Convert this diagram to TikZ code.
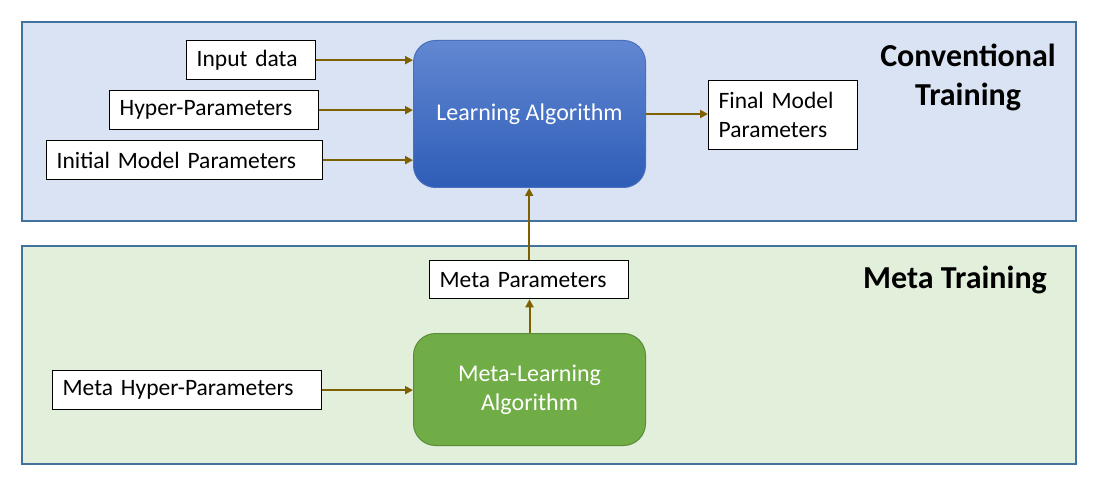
\documentclass[tikz,border=0pt]{standalone}
\usepackage{fontspec}
\setmainfont{Carlito}
\usetikzlibrary{arrows.meta}
\definecolor{panelborder}{RGB}{65,113,156}
\definecolor{topfill}{RGB}{218,227,243}
\definecolor{botfill}{RGB}{226,239,218}
\definecolor{latop}{RGB}{98,135,210}
\definecolor{labot}{RGB}{46,93,183}
\definecolor{laborder}{RGB}{72,110,190}
\definecolor{mlafill}{RGB}{112,173,71}
\definecolor{mlaborder}{RGB}{90,140,58}
\definecolor{arrowcol}{RGB}{127,96,0}
\tikzset{
  panel/.style={draw=panelborder, line width=1.2pt},
  wbox/.style={draw=black, fill=white, line width=1.3pt, anchor=north west, inner xsep=10pt, inner ysep=0pt, align=left, font=\fontsize{23.5}{29}\selectfont},
  algo/.style={rounded corners=22pt, anchor=north west, text=white, align=center, font=\fontsize{24}{29}\selectfont, line width=1pt},
  flow/.style={draw=arrowcol, line width=2pt, -{Triangle[length=8pt,width=8pt]}},
  title/.style={font=\fontsize{32}{39}\selectfont\bfseries, align=center}
}
\begin{document}
\begin{tikzpicture}[x=1pt,y=-1pt]
\useasboundingbox (0,0) rectangle (1097,486);
\fill[white] (0,0) rectangle (1097,486);
% panels
\draw[panel, fill=topfill] (22,22) rectangle (1076,221);
\draw[panel, fill=botfill] (22,246) rectangle (1076,464);
% titles
\node[title] (ct) at (968,77) {Conventional\\Training};
\node[title] (mt) at (955,280) {Meta Training};
% algorithm boxes
\node[algo, draw=laborder, top color=latop, bottom color=labot, minimum width=232pt, minimum height=147pt] (la) at (413,40) {Learning Algorithm};
\node[algo, draw=mlaborder, fill=mlafill, minimum width=232pt, minimum height=112pt] (mla) at (413,333) {Meta-Learning\\Algorithm};
% white boxes
\node[wbox, text width=109pt, minimum height=39pt] (inp) at (186,40) {Input data};
\node[wbox, text width=189pt, minimum height=39pt] (hyp) at (109,90) {Hyper-Parameters};
\node[wbox, text width=256pt, minimum height=39pt] (ini) at (46,140) {Initial Model Parameters};
\node[wbox, text width=129pt, minimum height=69pt] (fin) at (708,80) {Final Model\\Parameters};
\node[wbox, text width=179pt, minimum height=38pt] (mp) at (429,260) {Meta Parameters};
\node[wbox, text width=249pt, minimum height=39pt] (mhp) at (52,370) {Meta Hyper-Parameters};
% connectors
\draw[flow] (inp.east) -- (inp.east -| la.west);
\draw[flow] (hyp.east) -- (hyp.east -| la.west);
\draw[flow] (ini.east) -- (ini.east -| la.west);
\draw[flow] (la.east) -- (la.east -| fin.west);
\draw[flow] (mp.north) -- (mp.north |- la.south);
\draw[flow] (mla.north) -- (mla.north |- mp.south);
\draw[flow] (mhp.east) -- (mhp.east -| mla.west);
\end{tikzpicture}
\end{document}
